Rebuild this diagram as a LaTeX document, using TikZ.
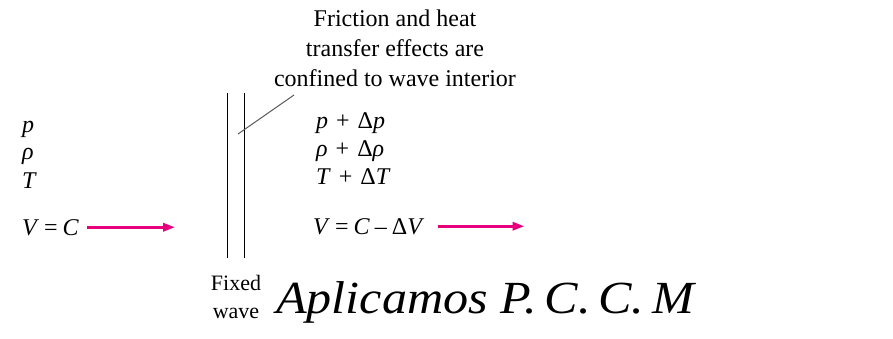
\documentclass[tikz,border=0pt]{standalone}
\usepackage{fontspec}
\setmainfont{Liberation Serif}
\newfontfamily\pccmfont[FakeStretch=1.09]{Liberation Serif}
\usepackage{xcolor}
\usetikzlibrary{arrows.meta, positioning}
\definecolor{flowpink}{RGB}{230,0,126}
\newcommand{\opgap}{\hspace{5pt}}

\begin{document}
\begin{tikzpicture}[
    x=1pt, y=-1pt,
    % === STYLES ===
    state/.style={
        anchor=base west,
        inner sep=0pt,
        font=\fontsize{24}{28}\selectfont
    },
    note/.style={
        align=center,
        inner sep=0pt,
        font=\fontsize{24}{30}\selectfont
    },
    flow/.style={
        -{Triangle[length=12pt, width=8pt]},
        line width=3pt,
        color=flowpink
    },
    wave/.style={
        line width=1pt,
        color=black
    },
    leader/.style={
        line width=1pt,
        color=gray!70!black
    }
]
\useasboundingbox (0,0) rectangle (893,339);

% === UPSTREAM STATE ===
\node[state] (p1) at (22,133) {\textit{p}};
\node[state] (rho1) at (22,160) {\textit{ρ}};
\node[state] (T1) at (22,189) {\textit{T}};
\node[state] (V1) at (22,235) {\textit{V}\opgap=\opgap\textit{C}};

% === FIXED WAVE ===
\coordinate (waveLtop) at (227,93);
\coordinate (waveLbot) at (227,258);
\coordinate (waveRtop) at (244,93);
\coordinate (waveRbot) at (244,258);
\draw[wave] (waveLtop) -- (waveLbot);
\draw[wave] (waveRtop) -- (waveRbot);

% === DOWNSTREAM STATE ===
\node[state] (p2) at (316,129) {\textit{p}\,\,+\,\,Δ\textit{p}};
\node[state] (rho2) at (316,157) {\textit{ρ}\,\,+\,\,Δ\textit{ρ}};
\node[state] (T2) at (316,185) {\textit{T}\,\,+\,\,Δ\textit{T}};
\node[state] (V2) at (313,234) {\textit{V}\opgap=\opgap\textit{C}\opgap–\opgap Δ\textit{V}};

% === ANNOTATIONS ===
\node[note] (friction) at (395,48) {Friction and heat\\transfer effects are\\confined to wave interior};
\coordinate (leadend) at (238,134);
\coordinate (leadstart) at (294,95);
\draw[leader] (leadstart) -- (leadend);

\node[note, font=\fontsize{22}{28}\selectfont] (fixed) at (236,297) {Fixed\\wave};
\node[anchor=base west, inner sep=0pt, font=\fontsize{46}{50}\pccmfont\itshape] (pccm)
    at (276,313) {Aplicamos P.\,C.\,C.\,M};

% === FLOW ARROWS ===
\path (V1.east) ++(96,0) coordinate (flow1end);
\path (V2.east) ++(100,0) coordinate (flow2end);
\draw[flow] ([xshift=8pt]V1.east) -- (flow1end);
\draw[flow] ([xshift=13pt]V2.east) -- (flow2end);

\end{tikzpicture}
\end{document}
